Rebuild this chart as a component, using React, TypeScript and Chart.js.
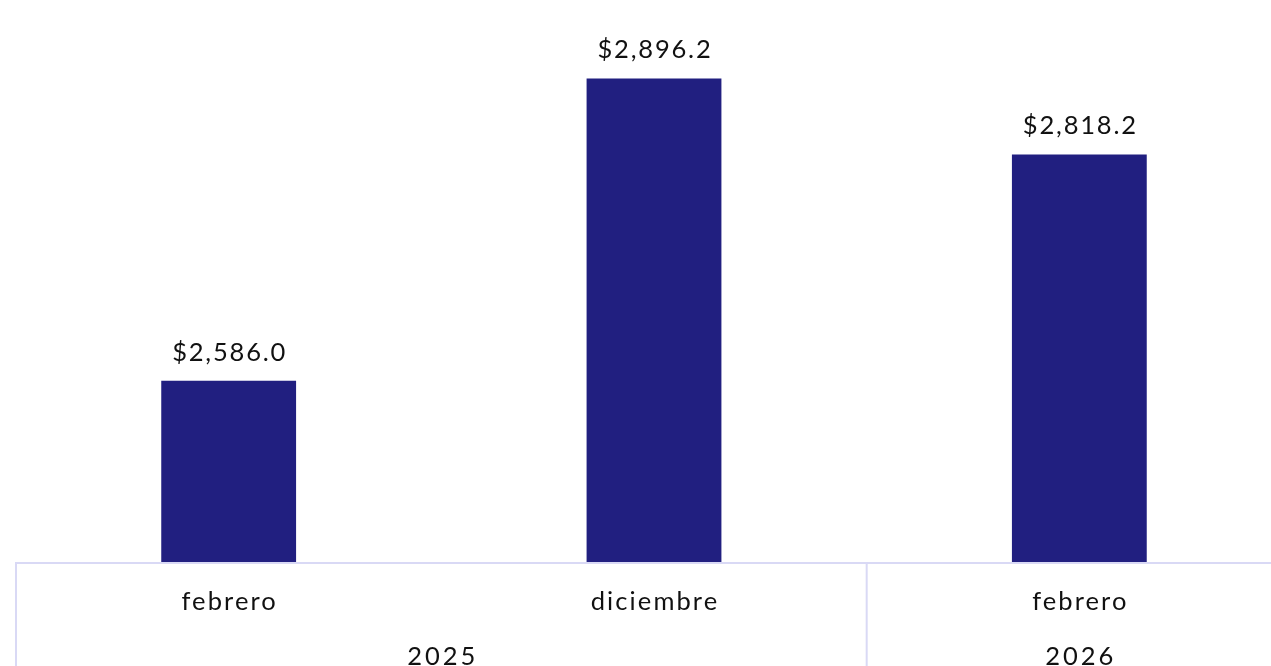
import React, { useEffect, useRef } from "react";
import { Chart, registerables } from "chart.js";

Chart.register(...registerables);

const months = ["febrero", "diciembre", "febrero"];
const values = [2586.0, 2896.2, 2818.2];
const years = ["2025", "2026"];
const yearSpans = [2, 1]; // number of months per year group

const BAR_COLOR = "#211F80";
const LINE_COLOR = "#D9D9F5";
const TEXT_COLOR = "#111111";
const FONT = "Lato, 'Noto Sans', sans-serif";

const fmt = (v: number) =>
  "$" + v.toLocaleString("en-US", { minimumFractionDigits: 1, maximumFractionDigits: 1 });

const overlayPlugin = {
  id: "overlay",
  afterDatasetsDraw(chart: any) {
    const ctx = chart.ctx;
    const x = chart.scales.x;
    const area = chart.chartArea;
    const meta = chart.getDatasetMeta(0);
    ctx.save();
    // data labels
    ctx.fillStyle = TEXT_COLOR;
    ctx.font = `25.5px ${FONT}`;
    (ctx as any).letterSpacing = "1.8px";
    ctx.textAlign = "center";
    ctx.textBaseline = "alphabetic";
    meta.data.forEach((bar: any, i: number) => {
      ctx.fillText(fmt(values[i]), bar.x + 1, bar.y - 20);
    });
    // axis lines
    const half = (x.getPixelForValue(1) - x.getPixelForValue(0)) / 2;
    ctx.strokeStyle = LINE_COLOR;
    ctx.lineWidth = 2;
    ctx.beginPath();
    ctx.moveTo(area.left - 1, area.bottom + 1);
    ctx.lineTo(area.right + 1, area.bottom + 1);
    ctx.stroke();
    let idx = 0;
    const bounds: number[] = [0];
    yearSpans.forEach((s) => {
      idx += s;
      bounds.push(idx);
    });
    bounds.forEach((b) => {
      const px = x.getPixelForValue(b) - half;
      ctx.beginPath();
      ctx.moveTo(px, area.bottom);
      ctx.lineTo(px, chart.height);
      ctx.stroke();
    });
    // month labels
    ctx.fillStyle = TEXT_COLOR;
    ctx.font = `25.5px ${FONT}`;
    ctx.textBaseline = "middle";
    (ctx as any).letterSpacing = "2.1px";
    months.forEach((m, i) => {
      ctx.fillText(m, x.getPixelForValue(i) + 1, area.bottom + 40);
    });
    // year labels
    (ctx as any).letterSpacing = "3px";
    let start = 0;
    years.forEach((y, i) => {
      const end = start + yearSpans[i] - 1;
      const cx = (x.getPixelForValue(start) + x.getPixelForValue(end)) / 2;
      ctx.fillText(y, cx + 1.5, area.bottom + 95);
      start += yearSpans[i];
    });
    ctx.restore();
  },
};

export default function App() {
  const ref = useRef<HTMLCanvasElement | null>(null);
  useEffect(() => {
    if (!ref.current) return;
    const chart = new Chart(ref.current, {
      type: "bar",
      data: {
        labels: months,
        datasets: [
          {
            data: values,
            backgroundColor: BAR_COLOR,
            barPercentage: 0.634,
            categoryPercentage: 0.5,
          },
        ],
      },
      options: {
        animation: false,
        responsive: false,
        events: [],
        layout: { padding: { left: 16, right: 8, top: 26, bottom: 138 } },
        plugins: { legend: { display: false }, tooltip: { enabled: false } },
        scales: {
          x: { display: false, offset: true },
          y: { display: false, min: 2400, max: 2950 },
        },
      },
      plugins: [overlayPlugin],
    });
    return () => chart.destroy();
  }, []);
  return (
    <div
      style={{
        position: "fixed",
        top: 0,
        left: 0,
        width: 1271,
        height: 666,
        overflow: "hidden",
        background: "#ffffff",
      }}
    >
      <canvas ref={ref} width={1300} height={700} style={{ display: "block" }} />
    </div>
  );
}
